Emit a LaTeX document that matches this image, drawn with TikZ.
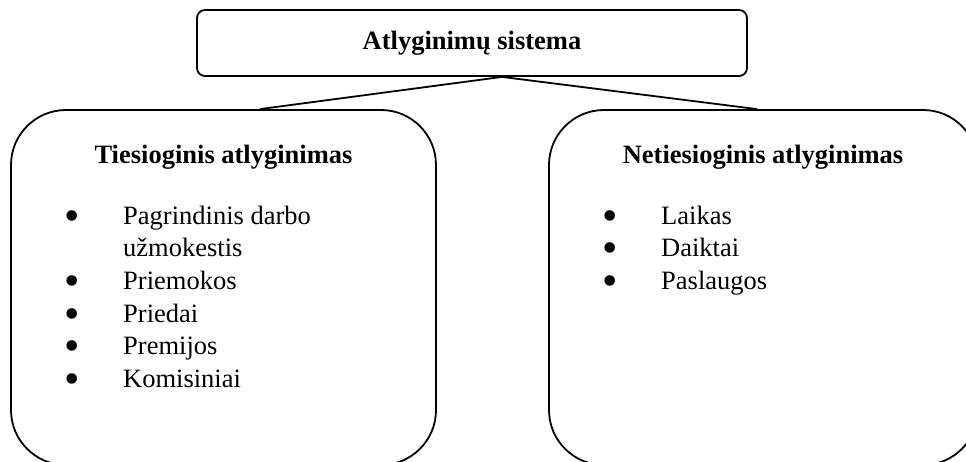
\documentclass[tikz,border=0pt]{standalone}
\usepackage{fontspec}
\setmainfont{Liberation Serif}
\usetikzlibrary{positioning}

\newcommand{\itemrows}[1]{\begin{tabular}[t]{@{}p{55.5pt}@{}l@{}}#1\end{tabular}}
\newcommand{\dotmark}{\makebox[9pt]{\smash{\raisebox{-6pt}{\fontsize{44}{44}\selectfont\textbullet}}}}

\begin{document}
\begin{tikzpicture}[
  x=1pt, y=-1pt,
  font=\fontsize{26.5}{32.7}\selectfont,
  topbox/.style={draw, line width=1.8pt, rounded corners=8pt,
    minimum width=550pt, minimum height=66pt, inner sep=0pt,
    font=\fontsize{26.5}{32.7}\selectfont\bfseries,
    text height=18pt, text depth=6pt},
  panel/.style={draw, line width=1.8pt, rounded corners=55pt,
    minimum width=#1, minimum height=355pt, inner sep=0pt},
  heading/.style={anchor=base, inner sep=0pt,
    font=\fontsize{26.5}{32.7}\selectfont\bfseries},
  itemlist/.style={anchor=base west, inner sep=0pt},
  link/.style={line width=1.8pt},
]

% Page size
\useasboundingbox (0,0) rectangle (966,461);

% Top
\node[topbox] (system) at (472,43) {Atlyginimų sistema};

% Two panels
\node[panel=425pt] (direct) at (223.5,287.5) {};
\node[panel=429pt] (indirect) at (763.5,287.5) {};

\node[heading] (directhead) at (223.5,163) {Tiesioginis atlyginimas};
\node[heading] (indirecthead) at (763,163) {Netiesioginis atlyginimas};

% Lists
\node[itemlist] (directlist) at (67.5,224) {\itemrows{%
  \dotmark & Pagrindinis darbo\\
           & užmokestis\\
  \dotmark & Priemokos\\
  \dotmark & Priedai\\
  \dotmark & Premijos\\
  \dotmark & Komisiniai}};

\node[itemlist] (indirectlist) at (605.5,224) {\itemrows{%
  \dotmark & Laikas\\
  \dotmark & Daiktai\\
  \dotmark & Paslaugos}};

% Connectors
\draw[link] ([xshift=30pt]system.south) -- ([xshift=36.5pt]direct.north);
\draw[link] ([xshift=30pt]system.south) -- ([xshift=-6.5pt]indirect.north);

\end{tikzpicture}
\end{document}
